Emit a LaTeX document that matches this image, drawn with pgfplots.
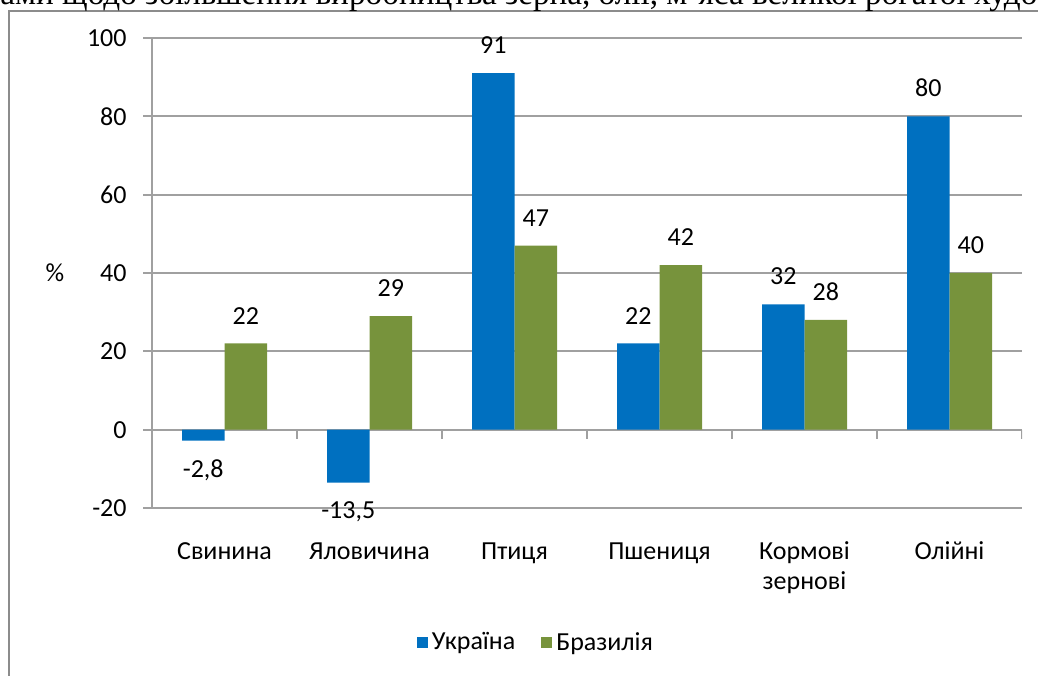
\documentclass[border=0pt]{standalone}
\usepackage{fontspec}
\setmainfont{Carlito}
\newfontfamily\seriffont{Liberation Serif}
\usepackage{pgfplots}
\pgfplotsset{compat=1.18}
\definecolor{ua}{HTML}{0070C0}
\definecolor{br}{HTML}{77933C}
\definecolor{gridc}{HTML}{A0A0A0}
\definecolor{framec}{HTML}{8C8C8C}
\newcommand\lf{\fontsize{13}{15}\selectfont}
\begin{document}
\begin{tikzpicture}
\useasboundingbox (0,0) rectangle (519pt,337.5pt);
\clip (0,0) rectangle (519pt,337.5pt);
\draw[framec, line width=1.2pt] (4.5pt,332pt) rectangle (533pt,-20pt);
\node[anchor=base west, inner sep=0pt, font=\seriffont\fontsize{16.6}{19}\selectfont] at (0pt,335.3pt) {ами щодо збільшення виробництва зерна, олії, м’яса великої рогатої худо};
\begin{axis}[
  at={(76pt,83.5pt)}, anchor=south west,
  scale only axis, width=435pt, height=235pt,
  xmin=-0.5, xmax=5.5, ymin=-20, ymax=100,
  ybar=0pt, bar width=21.25pt,
  axis y line*=left, axis x line*=bottom,
  x axis line style={draw=none},
  y axis line style={gridc, line width=0.9pt},
  xtick={0,1,2,3,4,5},
  xticklabels={{\strut Свинина},{\strut Яловичина},{\strut Птиця},{\strut Пшениця},{\strut Кормові\\зернові},{\strut Олійні}},
  xtick style={draw=none},
  xticklabel style={font=\lf, inner sep=0pt, yshift=-10.5pt, align=center},
  ytick={-20,0,20,40,60,80,100},
  ytick style={gridc, line width=0.9pt},
  tick align=outside, major tick length=4.5pt,
  yticklabel style={font=\lf, inner sep=0pt, xshift=-8pt},
  /pgf/number format/assume math mode=true,
  ymajorgrids, grid style={gridc, line width=0.9pt},
  ylabel={\%},
  every axis y label/.style={at={(axis description cs:-0.1115,0.5)}, anchor=center, font=\lf},
  point meta=explicit symbolic,
  nodes near coords,
  every node near coord/.append style={font=\lf, inner ysep=9.5pt, inner xsep=0pt, text=black, anchor=south},
  legend style={at={(0.4425,-0.287)}, anchor=center, draw=none, fill=none, legend columns=2,
    font=\lf, /tikz/every even column/.append style={column sep=11pt},
    nodes={inner xsep=2pt, inner ysep=1pt}},
  legend image code/.code={\fill[#1] (0pt,-2.75pt) rectangle (5.5pt,2.75pt);},
]
\addplot[fill=ua, draw=none, bar shift=-10.625pt] coordinates {(2,91) [91] (3,22) [22] (4,32) [32] (5,80) [80]};
\addlegendentry{Україна}
\addplot[fill=br, draw=none, bar shift=10.625pt] coordinates {(0,22) [22] (1,29) [29] (2,47) [47] (3,42) [42] (4,28) [28] (5,40) [40]};
\addlegendentry{Бразилія}
\addplot[fill=ua, draw=none, bar shift=-10.625pt, forget plot, every node near coord/.append style={anchor=north}] coordinates {(0,-2.8) [{-2,8}] (1,-13.5) [{-13,5}]};
\pgfplotsinvokeforeach{-0.5,0.5,1.5,2.5,3.5,4.5,5.5}{\draw[gridc, line width=0.9pt] (axis cs:#1,0) -- ([yshift=-4.5pt]axis cs:#1,0);}
\end{axis}
\end{tikzpicture}
\end{document}
